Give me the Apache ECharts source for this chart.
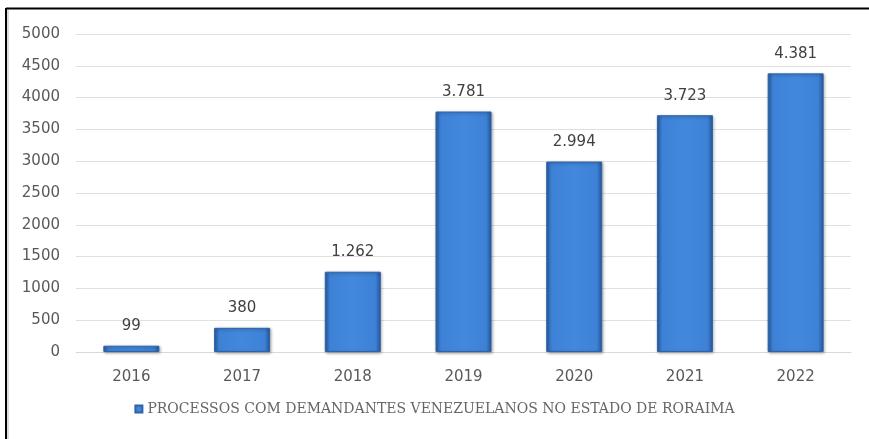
<!DOCTYPE html>
<html>
<head>
<meta charset="utf-8">
<script src="https://cdn.jsdelivr.net/npm/echarts@6/dist/echarts.min.js"></script>
<style>
  html, body { margin: 0; padding: 0; background: #fff; }
  #chart { width: 869px; height: 439px; }
</style>
</head>
<body>
<div id="chart"></div>
<script>
const categories = ['2016', '2017', '2018', '2019', '2020', '2021', '2022'];
const values = [99, 380, 1262, 3781, 2994, 3723, 4381];
const seriesName = 'PROCESSOS COM DEMANDANTES VENEZUELANOS NO ESTADO DE RORAIMA';
const yMin = 0, yMax = 5000, yStep = 500;

function ptFormat(v) {
  return String(v).replace(/\B(?=(\d{3})+(?!\d))/g, '.');
}

const chart = echarts.init(document.getElementById('chart'));
chart.setOption({
  backgroundColor: '#ffffff',
  animation: false,
  grid: { left: 76, right: 18, top: 34, bottom: 87, containLabel: false },
  graphic: [
    { type: 'line', shape: { x1: 6, y1: 8.5, x2: 869, y2: 8.5 }, style: { stroke: '#000', lineWidth: 2 } },
    { type: 'line', shape: { x1: 6, y1: 8, x2: 6, y2: 439 }, style: { stroke: '#000', lineWidth: 2 } },
    { type: 'line', shape: { x1: 8, y1: 10, x2: 8, y2: 439 }, style: { stroke: '#bbb', lineWidth: 1 } }
  ],
  xAxis: {
    type: 'category',
    data: categories,
    axisLine: { show: true, lineStyle: { color: '#d9d9d9', width: 1 } },
    axisTick: { show: false },
    axisLabel: { color: '#595959', fontFamily: 'DejaVu Sans', fontSize: 15, margin: 18 }
  },
  yAxis: {
    type: 'value',
    min: yMin, max: yMax, interval: yStep,
    axisLine: { show: false },
    axisTick: { show: false },
    splitLine: { lineStyle: { color: '#e0e0e0', width: 1 } },
    axisLabel: { color: '#595959', fontFamily: 'DejaVu Sans', fontSize: 15, margin: 16, formatter: v => String(v) }
  },
  legend: {
    bottom: 18,
    left: 'center',
    icon: 'rect',
    itemWidth: 7,
    itemHeight: 7,
    itemGap: 4,
    textStyle: { color: '#666', fontFamily: 'DejaVu Serif', fontSize: 14 },
    data: [seriesName]
  },
  series: [{
    name: seriesName,
    type: 'bar',
    data: values,
    barWidth: 56,
    itemStyle: {
      color: {
        type: 'linear', x: 0, y: 0, x2: 1, y2: 0,
        colorStops: [
          { offset: 0, color: '#2a5ea6' },
          { offset: 0.1, color: '#3d82d6' },
          { offset: 0.5, color: '#4288dc' },
          { offset: 0.9, color: '#3d82d6' },
          { offset: 1, color: '#27579c' }
        ]
      },
      borderColor: '#2f62a8',
      borderWidth: 1,
      shadowColor: 'rgba(0,0,0,0.35)',
      shadowBlur: 3,
      shadowOffsetX: 1,
      shadowOffsetY: 1
    },
    label: {
      show: true,
      position: 'top',
      distance: 12,
      color: '#404040',
      fontFamily: 'DejaVu Sans',
      fontSize: 15,
      formatter: p => ptFormat(p.value)
    }
  }]
});
</script>
</body>
</html>
